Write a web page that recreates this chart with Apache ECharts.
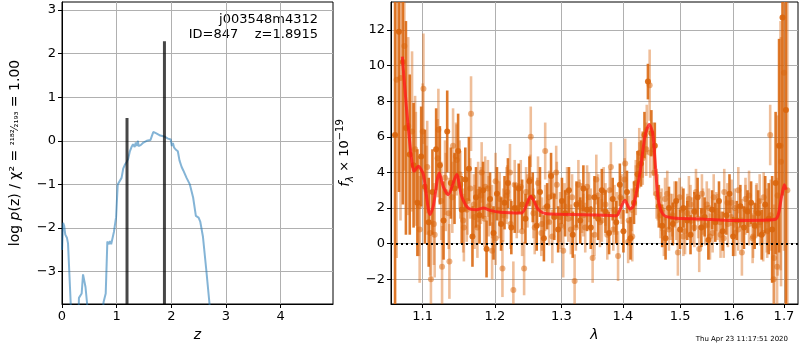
<!DOCTYPE html>
<html>
<head>
<meta charset="utf-8">
<script src="https://cdn.jsdelivr.net/npm/echarts@6.0.0/dist/echarts.min.js"></script>
<style>
html, body { margin: 0; padding: 0; background: #fff; }
#main { width: 800px; height: 350px; }
</style>
</head>
<body>
<div id="main"></div>
<script>
// ---- left panel: log p(z) ----
var zGrid = [0, 0.02, 0.04, 0.06, 0.09, 0.11, 0.16, 0.19,
  0.29, 0.31, 0.34, 0.36, 0.385, 0.43, 0.46, 0.49,
  0.72, 0.76, 0.80, 0.83, 0.86, 0.88, 0.90, 0.95, 0.99, 1.02, 1.05, 1.09, 1.12, 1.15, 1.18,
  1.21, 1.24, 1.27, 1.30, 1.33, 1.35, 1.37, 1.39, 1.40, 1.44, 1.49, 1.55, 1.62, 1.67, 1.71,
  1.80, 1.87, 1.94, 1.99, 2.01, 2.03, 2.05, 2.08, 2.12, 2.15, 2.19, 2.22, 2.28, 2.34, 2.40,
  2.45, 2.50, 2.53, 2.58, 2.64, 2.70, 2.75];
var logPz = [-2.5, -1.88, -1.95, -2.15, -2.22, -2.35, -3.74, -4.8,
  -4.8, -3.6, -3.62, -3.5, -3.06, -3.35, -3.74, -4.8,
  -4.8, -3.7, -3.5, -2.31, -2.37, -2.3, -2.37, -2.09, -1.75, -1.0, -0.98, -0.85, -0.64, -0.55, -0.49,
  -0.42, -0.25, -0.15, -0.08, -0.14, -0.04, -0.12, 0.0, -0.12, -0.1, -0.04, 0.0, 0.02, 0.2, 0.18,
  0.12, 0.1, 0.05, 0.03, -0.12, -0.05, -0.15, -0.2, -0.24, -0.45, -0.6, -0.68, -0.85, -1.0, -1.3,
  -1.72, -1.76, -1.85, -2.2, -2.95, -3.74, -4.8];
var zPeaks = [1.19, 1.875];
var zPeakTops = [0.52, 2.28];
var zTicks = [0, 1, 2, 3, 4];
var pzTicks = [-3, -2, -1, 0, 1, 2, 3];

// ---- right panel: spectrum (three exposures) ----
var lamA = [1.064, 1.069, 1.074, 1.078, 1.083, 1.088, 1.093, 1.098, 1.103, 1.108,
  1.113, 1.118, 1.123, 1.128, 1.133, 1.138, 1.143, 1.148, 1.153, 1.158,
  1.163, 1.168, 1.173, 1.178, 1.183, 1.188, 1.193, 1.198, 1.203, 1.209,
  1.214, 1.219, 1.224, 1.229, 1.235, 1.240, 1.245, 1.251, 1.256, 1.262,
  1.267, 1.273, 1.278, 1.284, 1.289, 1.295, 1.301, 1.306, 1.312, 1.318,
  1.324, 1.330, 1.335, 1.341, 1.347, 1.353, 1.359, 1.365, 1.371, 1.377,
  1.383, 1.389, 1.395, 1.401, 1.407, 1.413, 1.419, 1.425, 1.431, 1.437,
  1.443, 1.449, 1.455, 1.462, 1.468, 1.474, 1.480, 1.487, 1.493, 1.500,
  1.506, 1.513, 1.519, 1.526, 1.532, 1.539, 1.545, 1.552, 1.559, 1.565,
  1.572, 1.579, 1.586, 1.592, 1.599, 1.606, 1.613, 1.620, 1.627, 1.634,
  1.641, 1.648, 1.655, 1.662, 1.669, 1.676, 1.683, 1.690, 1.697, 1.704];
var fluxA = [6.1, 11.9, 10.2, 6.5, 5.0, 4.4, 2.3, 4.9, 3.2, 1.2,
  2.9, 5.3, 4.4, 1.3, 6.3, 3.4, 3.1, 5.2, 1.9, 3.6,
  4.2, 0.4, 2.6, 1.6, 3.0, -0.3, 2.5, 0.6, 2.8, 1.1,
  2.3, 3.4, 0.9, 2.0, 3.1, 2.2, 1.4, 3.5, 2.6, 1.0,
  2.9, 0.3, 2.1, 3.8, 1.5, 0.8, 2.4, 1.7, 3.0, 0.5,
  2.2, 1.3, 3.1, 1.9, 0.9, 2.6, 1.4, 3.0, 1.8, 0.6,
  2.5, 1.2, 3.3, 0.7, 2.9, 0.3, 2.3, 3.9, 4.5, 6.1,
  9.1, 6.2, 5.5, 2.1, 1.0, 0.3, 2.0, 1.1, 2.4, 0.8,
  2.0, 1.3, 0.5, 1.8, 2.6, 0.9, 1.5, 0.2, 1.9, 1.2,
  2.4, 0.7, 1.6, 2.8, 0.4, 1.3, 2.1, 0.9, 1.8, 2.3,
  1.0, 1.7, 0.5, 2.2, 1.4, 0.8, 3.4, 5.5, 12.7, 7.5];
var errA = [12, 9, 8, 6, 4.5, 3.5, 3, 2.8, 3.2, 2.5,
  2.4, 2.3, 2.2, 2.2, 2.3, 2.0, 2.0, 2.1, 1.9, 1.8,
  1.8, 1.7, 1.7, 1.6, 1.6, 1.6, 1.5, 1.5, 1.5, 1.5,
  1.5, 1.4, 1.5, 1.4, 1.4, 1.4, 1.4, 1.4, 1.4, 1.4,
  1.4, 1.3, 1.3, 1.3, 1.3, 1.3, 1.3, 1.3, 1.3, 1.3,
  1.3, 1.3, 1.3, 1.2, 1.2, 1.2, 1.2, 1.2, 1.2, 1.2,
  1.2, 1.2, 1.2, 1.2, 1.2, 1.2, 1.2, 1.3, 1.3, 1.3,
  1.0, 1.3, 1.3, 1.2, 1.2, 1.2, 1.2, 1.2, 1.1, 1.1,
  1.1, 1.1, 1.1, 1.1, 1.1, 1.1, 1.1, 1.1, 1.1, 1.1,
  1.1, 1.1, 1.1, 1.1, 1.1, 1.1, 1.2, 1.2, 1.2, 1.2,
  1.3, 1.3, 1.4, 1.6, 2.0, 3.0, 4, 6, 10, 12];

var lamB = [1.066, 1.071, 1.076, 1.081, 1.086, 1.091, 1.096, 1.101, 1.106, 1.111,
  1.116, 1.121, 1.126, 1.131, 1.136, 1.141, 1.146, 1.151, 1.156, 1.161,
  1.166, 1.171, 1.176, 1.181, 1.186, 1.191, 1.196, 1.201, 1.206, 1.211,
  1.217, 1.222, 1.227, 1.232, 1.238, 1.243, 1.248, 1.253, 1.259, 1.264,
  1.270, 1.275, 1.281, 1.286, 1.292, 1.298, 1.303, 1.309, 1.315, 1.321,
  1.327, 1.333, 1.338, 1.344, 1.350, 1.356, 1.362, 1.368, 1.374, 1.380,
  1.386, 1.392, 1.398, 1.404, 1.410, 1.416, 1.422, 1.428, 1.434, 1.440,
  1.446, 1.452, 1.458, 1.465, 1.471, 1.477, 1.483, 1.490, 1.496, 1.503,
  1.509, 1.516, 1.522, 1.529, 1.535, 1.542, 1.549, 1.555, 1.562, 1.569,
  1.575, 1.582, 1.589, 1.596, 1.603, 1.609, 1.616, 1.623, 1.630, 1.637,
  1.644, 1.651, 1.658, 1.665, 1.672, 1.679, 1.686, 1.693, 1.700, 1.707];
var fluxB = [9.2, 9.3, 11.1, 6.6, 6.3, 4.2, 0.8, 8.7, 4.3, -2.0,
  0.5, 6.4, -1.3, 2.9, -1.0, 5.5, 4.7, 3.3, 0.9, 2.4,
  7.3, 1.5, 2.9, 4.0, 3.2, 2.1, -0.4, 3.5, 1.9, -1.4,
  2.7, 4.0, -2.6, 1.8, 3.2, -1.4, 2.4, 6.0, 0.9, 3.4,
  1.1, 5.2, 2.6, 0.4, 4.0, 1.5, -0.4, 2.9, 0.8, -2.1,
  3.3, 2.0, 0.9, 2.6, -0.8, 3.6, 1.2, 2.9, 0.5, 4.3,
  1.9, -0.7, 2.5, 4.5, 1.3, 0.4, 3.0, 5.1, 4.8, 5.3,
  8.9, 5.3, 2.8, 1.6, 0.6, 2.8, 1.5, 2.2, -0.5, 1.9,
  0.7, 2.5, 1.3, 2.9, -0.3, 1.8, 2.2, 0.4, 2.6, 1.5,
  0.5, 2.9, 1.1, 2.3, 0.6, 3.0, -0.5, 1.9, 2.7, 0.3,
  1.8, 2.4, 0.6, 1.3, 6.1, -2.0, -1.3, 5.5, 9.6, 3.0];
var errB = [10, 8, 7, 5, 4.5, 3.2, 3.0, 3.1, 2.6, 2.5,
  2.4, 2.3, 2.3, 2.2, 2.1, 2.1, 2.0, 1.9, 1.9, 1.9,
  2.1, 1.8, 1.7, 1.7, 1.7, 1.7, 1.6, 1.6, 1.6, 1.6,
  1.6, 1.6, 1.6, 1.5, 1.5, 1.5, 1.5, 1.7, 1.5, 1.5,
  1.5, 1.6, 1.5, 1.5, 1.5, 1.4, 1.5, 1.4, 1.4, 1.5,
  1.4, 1.4, 1.4, 1.4, 1.4, 1.4, 1.4, 1.4, 1.4, 1.4,
  1.4, 1.4, 1.4, 1.4, 1.4, 1.4, 1.4, 1.4, 1.5, 1.5,
  2.0, 1.5, 1.4, 1.3, 1.3, 1.3, 1.3, 1.3, 1.3, 1.3,
  1.3, 1.3, 1.3, 1.3, 1.3, 1.3, 1.3, 1.3, 1.3, 1.3,
  1.3, 1.3, 1.3, 1.3, 1.3, 1.3, 1.3, 1.4, 1.4, 1.4,
  1.5, 1.5, 1.6, 1.8, 1.7, 3.5, 5, 7, 10, 12];

var lamC = [1.090, 1.095, 1.100, 1.105, 1.110, 1.115, 1.120, 1.125, 1.130, 1.135,
  1.140, 1.145, 1.150, 1.155, 1.160, 1.165, 1.170, 1.175, 1.180, 1.185,
  1.190, 1.196, 1.201, 1.207, 1.212, 1.218, 1.223, 1.229, 1.234, 1.240,
  1.246, 1.252, 1.257, 1.263, 1.269, 1.275, 1.281, 1.287, 1.293, 1.299,
  1.305, 1.311, 1.317, 1.323, 1.329, 1.335, 1.341, 1.347, 1.353, 1.359,
  1.365, 1.371, 1.378, 1.384, 1.390, 1.396, 1.403, 1.409, 1.415, 1.422,
  1.428, 1.434, 1.441, 1.447, 1.454, 1.460, 1.467, 1.473, 1.480, 1.486,
  1.493, 1.499, 1.506, 1.513, 1.519, 1.526, 1.533, 1.540, 1.546, 1.553,
  1.560, 1.567, 1.574, 1.581, 1.588, 1.595, 1.602, 1.609, 1.616, 1.623,
  1.630, 1.638, 1.645, 1.652, 1.659, 1.666, 1.673, 1.680, 1.687, 1.694];
var fluxC = [5.3, 2.1, 6.3, 3.0, 0.6, 1.1, 4.8, 2.4, 3.7, 1.7,
  2.6, 4.9, 3.9, 1.3, 1.9, 3.1, 2.2, 0.9, 2.7, 1.4,
  3.1, 1.8, 0.3, 2.5, 1.6, 2.9, 1.1, 3.3, 2.0, 0.7,
  2.9, 3.6, 1.7, 2.3, 0.6, 2.0, 1.2, 2.7, 3.3, 1.0,
  2.1, 1.4, 2.6, 0.9, 2.3, 1.6, 3.2, 1.9, 0.5, 2.7,
  1.3, 2.2, 3.0, 0.8, 1.7, 2.6, 3.6, 0.1, 1.9, 3.4,
  4.4, 5.0, 6.4, 5.1, 4.0, 2.6, 1.9, 2.5, 0.8, 1.6,
  1.3, 2.6, 0.4, 1.7, 2.2, 0.9, 1.4, 2.8, 1.0, 2.0,
  0.6, 1.8, 1.2, 0.3, 2.3, 1.5, 2.0, 0.8, 1.3, 2.5,
  1.1, 0.4, 2.1, 1.2, 2.6, 0.7, 1.6, -0.8, 2.7, 4.6];
var errC = [3.0, 2.8, 2.7, 2.5, 2.4, 2.3, 2.2, 2.2, 2.1, 2.0,
  2.0, 1.9, 1.9, 1.8, 1.8, 1.7, 1.7, 1.7, 1.6, 1.6,
  1.6, 1.5, 1.5, 1.5, 1.5, 1.5, 1.4, 1.4, 1.4, 1.4,
  1.4, 1.4, 1.4, 1.4, 1.3, 1.3, 1.3, 1.3, 1.3, 1.3,
  1.3, 1.3, 1.3, 1.3, 1.3, 1.2, 1.2, 1.2, 1.2, 1.2,
  1.2, 1.2, 1.2, 1.2, 1.2, 1.2, 1.2, 1.2, 1.2, 1.3,
  1.3, 1.3, 1.4, 1.4, 1.3, 1.3, 1.2, 1.2, 1.2, 1.2,
  1.1, 1.1, 1.1, 1.1, 1.1, 1.1, 1.1, 1.1, 1.1, 1.1,
  1.1, 1.1, 1.1, 1.1, 1.1, 1.1, 1.1, 1.2, 1.2, 1.2,
  1.2, 1.2, 1.3, 1.3, 1.4, 1.5, 2.0, 3.0, 4.5, 7];

var modelLam = [1.0733, 1.079, 1.0855, 1.0885, 1.0942, 1.1008, 1.1097, 1.1141, 1.1222, 1.1276,
  1.1345, 1.146, 1.1529, 1.1621, 1.1739, 1.1833, 1.1929, 1.2074, 1.2393, 1.2529,
  1.2645, 1.2747, 1.3, 1.3702, 1.3896, 1.3952, 1.4036, 1.4121, 1.4177, 1.4292,
  1.4378, 1.4453, 1.4513, 1.4553, 1.4611, 1.47, 1.4877, 1.5364, 1.60, 1.6816,
  1.6953, 1.7008, 1.7045];
var modelFlux = [10.5, 7.5, 4.7, 4.06, 4.34, 3.9, 1.63, 2.1, 3.97, 3.2,
  2.75, 3.88, 2.66, 2.0, 1.91, 2.0, 1.87, 1.76, 1.72, 2.66,
  1.91, 1.69, 1.65, 1.6, 1.57, 1.91, 2.43, 1.95, 2.1, 3.97,
  6.03, 6.69, 6.2, 4.72, 2.47, 1.63, 1.44, 1.39, 1.3, 1.35,
  2.66, 3.31, 3.03];
var lamTicks = [1.1, 1.2, 1.3, 1.4, 1.5, 1.6, 1.7];
var fluxTicks = [-2, 0, 2, 4, 6, 8, 10, 12];

var FONT = 'DejaVu Sans';
var GRID_COLOR = '#b0b0b0';

function zip(a, b) {
  return a.map(function (v, i) { return [v, b[i]]; });
}

function makeAxis(o) {
  return Object.assign({
    type: 'value',
    axisLine: { show: true, onZero: false, lineStyle: { color: '#000', width: 1 } },
    axisTick: { show: true, length: 4, lineStyle: { color: '#000' }, customValues: o.ticks },
    axisLabel: { color: '#000', fontFamily: FONT, fontSize: 13, margin: 6, customValues: o.ticks,
      formatter: function (v) { return String(v).replace('-', '\u2212'); } },
    splitLine: { show: true, lineStyle: { color: GRID_COLOR, width: 1 } },
    nameLocation: 'middle',
    nameTextStyle: { color: '#000', fontFamily: FONT, fontSize: 13 }
  }, o.extra);
}

function errBars(lam, flux, err, color, opacity, z) {
  return {
    type: 'custom', xAxisIndex: 1, yAxisIndex: 1, clip: true, z: z, silent: true,
    data: lam.map(function (l, i) { return [l, flux[i] - err[i], flux[i] + err[i]]; }),
    encode: { x: 0, y: [1, 2] },
    renderItem: function (params, api) {
      var lo = api.coord([api.value(0), api.value(1)]);
      var hi = api.coord([api.value(0), api.value(2)]);
      return {
        type: 'line',
        shape: { x1: lo[0], y1: lo[1], x2: hi[0], y2: hi[1] },
        style: { stroke: color, lineWidth: 2.6, opacity: opacity }
      };
    }
  };
}

function points(lam, flux, color, opacity, z) {
  return {
    type: 'scatter', xAxisIndex: 1, yAxisIndex: 1, z: z, silent: true,
    symbolSize: 6, clip: true,
    itemStyle: { color: color, opacity: opacity },
    data: zip(lam, flux)
  };
}

var chart = echarts.init(document.getElementById('main'));
var ORANGE = '#d9650c';

var peakLines = {
  type: 'custom', xAxisIndex: 0, yAxisIndex: 0, clip: true, z: 5, silent: true,
  data: zip(zPeaks, zPeakTops),
  renderItem: function (params, api) {
    var top = api.coord([api.value(0), api.value(1)]);
    var bot = api.coord([api.value(0), -10]);
    return {
      type: 'line',
      shape: { x1: top[0], y1: top[1], x2: bot[0], y2: bot[1] },
      style: { stroke: '#000', lineWidth: 3, opacity: 0.72 }
    };
  }
};

chart.setOption({
  animation: false,
  backgroundColor: '#fff',
  grid: [
    { left: 62, top: 2, width: 271, height: 302, show: true, borderColor: '#000', borderWidth: 1 },
    { left: 391, top: 2, width: 407, height: 302, show: true, borderColor: '#000', borderWidth: 1 }
  ],
  xAxis: [
    makeAxis({ ticks: zTicks, extra: { gridIndex: 0, min: 0, max: 4.96, name: 'z', nameGap: 24,
      nameTextStyle: { color: '#000', fontFamily: FONT, fontSize: 14, fontStyle: 'italic' } } }),
    makeAxis({ ticks: lamTicks, extra: { type: 'log', gridIndex: 1, min: 1.0588, max: 1.729, name: 'λ', nameGap: 24,
      nameTextStyle: { color: '#000', fontFamily: FONT, fontSize: 14, fontStyle: 'italic' } } })
  ],
  yAxis: [
    makeAxis({ ticks: pzTicks, extra: { gridIndex: 0, min: -3.74, max: 3.18, nameGap: 40,
      name: '{n|log }{i|p}{n|(z) / χ² = }{f|²¹⁸²⁄₂₁₉₃}{n| = 1.00}',
      nameTextStyle: { color: '#000', fontFamily: FONT, fontSize: 14,
        rich: {
          n: { fontFamily: FONT, fontSize: 14, color: '#000' },
          i: { fontFamily: FONT, fontSize: 14, color: '#000', fontStyle: 'italic' },
          f: { fontFamily: FONT, fontSize: 10, color: '#000' }
        } } } }),
    makeAxis({ ticks: fluxTicks, extra: { gridIndex: 1, min: -3.39, max: 13.57, nameGap: 30,
      name: '{i|f}{s|λ}{n| × 10}{p|−19}',
      nameTextStyle: { color: '#000', fontFamily: FONT, fontSize: 13,
        rich: {
          i: { fontFamily: FONT, fontSize: 14, color: '#000', fontStyle: 'italic', lineHeight: 20 },
          s: { fontFamily: FONT, fontSize: 10, color: '#000', fontStyle: 'italic', verticalAlign: 'bottom', lineHeight: 20 },
          n: { fontFamily: FONT, fontSize: 13, color: '#000', lineHeight: 20 },
          p: { fontFamily: FONT, fontSize: 10, color: '#000', verticalAlign: 'top', lineHeight: 20 }
        } } } })
  ],
  graphic: [
    { type: 'text', x: 318, y: 20, style: { text: 'j003548m4312', fill: '#000', font: '13px "DejaVu Sans"', textAlign: 'right', textVerticalAlign: 'middle' } },
    { type: 'text', x: 318, y: 35, style: { text: 'ID=847    z=1.8915', fill: '#000', font: '13px "DejaVu Sans"', textAlign: 'right', textVerticalAlign: 'middle' } },
    { type: 'text', x: 788, y: 339, style: { text: 'Thu Apr 23 11:17:51 2020', fill: '#000', font: '7px "DejaVu Sans"', textAlign: 'right', textVerticalAlign: 'middle' } }
  ],
  series: [
    {
      type: 'line', xAxisIndex: 0, yAxisIndex: 0, clip: true, z: 3, silent: true,
      symbol: 'none', data: zip(zGrid, logPz),
      lineStyle: { color: '#1f77b4', width: 2, opacity: 0.55 }
    },
    peakLines,
    errBars(lamB, fluxB, errB, ORANGE, 0.42, 2),
    points(lamB, fluxB, ORANGE, 0.5, 3),
    errBars(lamC, fluxC, errC, ORANGE, 0.42, 2),
    points(lamC, fluxC, ORANGE, 0.5, 3),
    errBars(lamA, fluxA, errA, ORANGE, 0.88, 4),
    points(lamA, fluxA, ORANGE, 0.9, 5),
    {
      type: 'line', xAxisIndex: 1, yAxisIndex: 1, clip: true, z: 8, silent: true,
      symbol: 'none', smooth: 0.25, data: zip(modelLam, modelFlux),
      lineStyle: { color: '#ff1a1a', width: 3, opacity: 0.8 },
      markLine: {
        silent: true, symbol: 'none', label: { show: false },
        lineStyle: { color: '#000', type: [2, 3], width: 1.8 },
        data: [{ yAxis: 0 }]
      }
    }
  ]
});
</script>
</body>
</html>
